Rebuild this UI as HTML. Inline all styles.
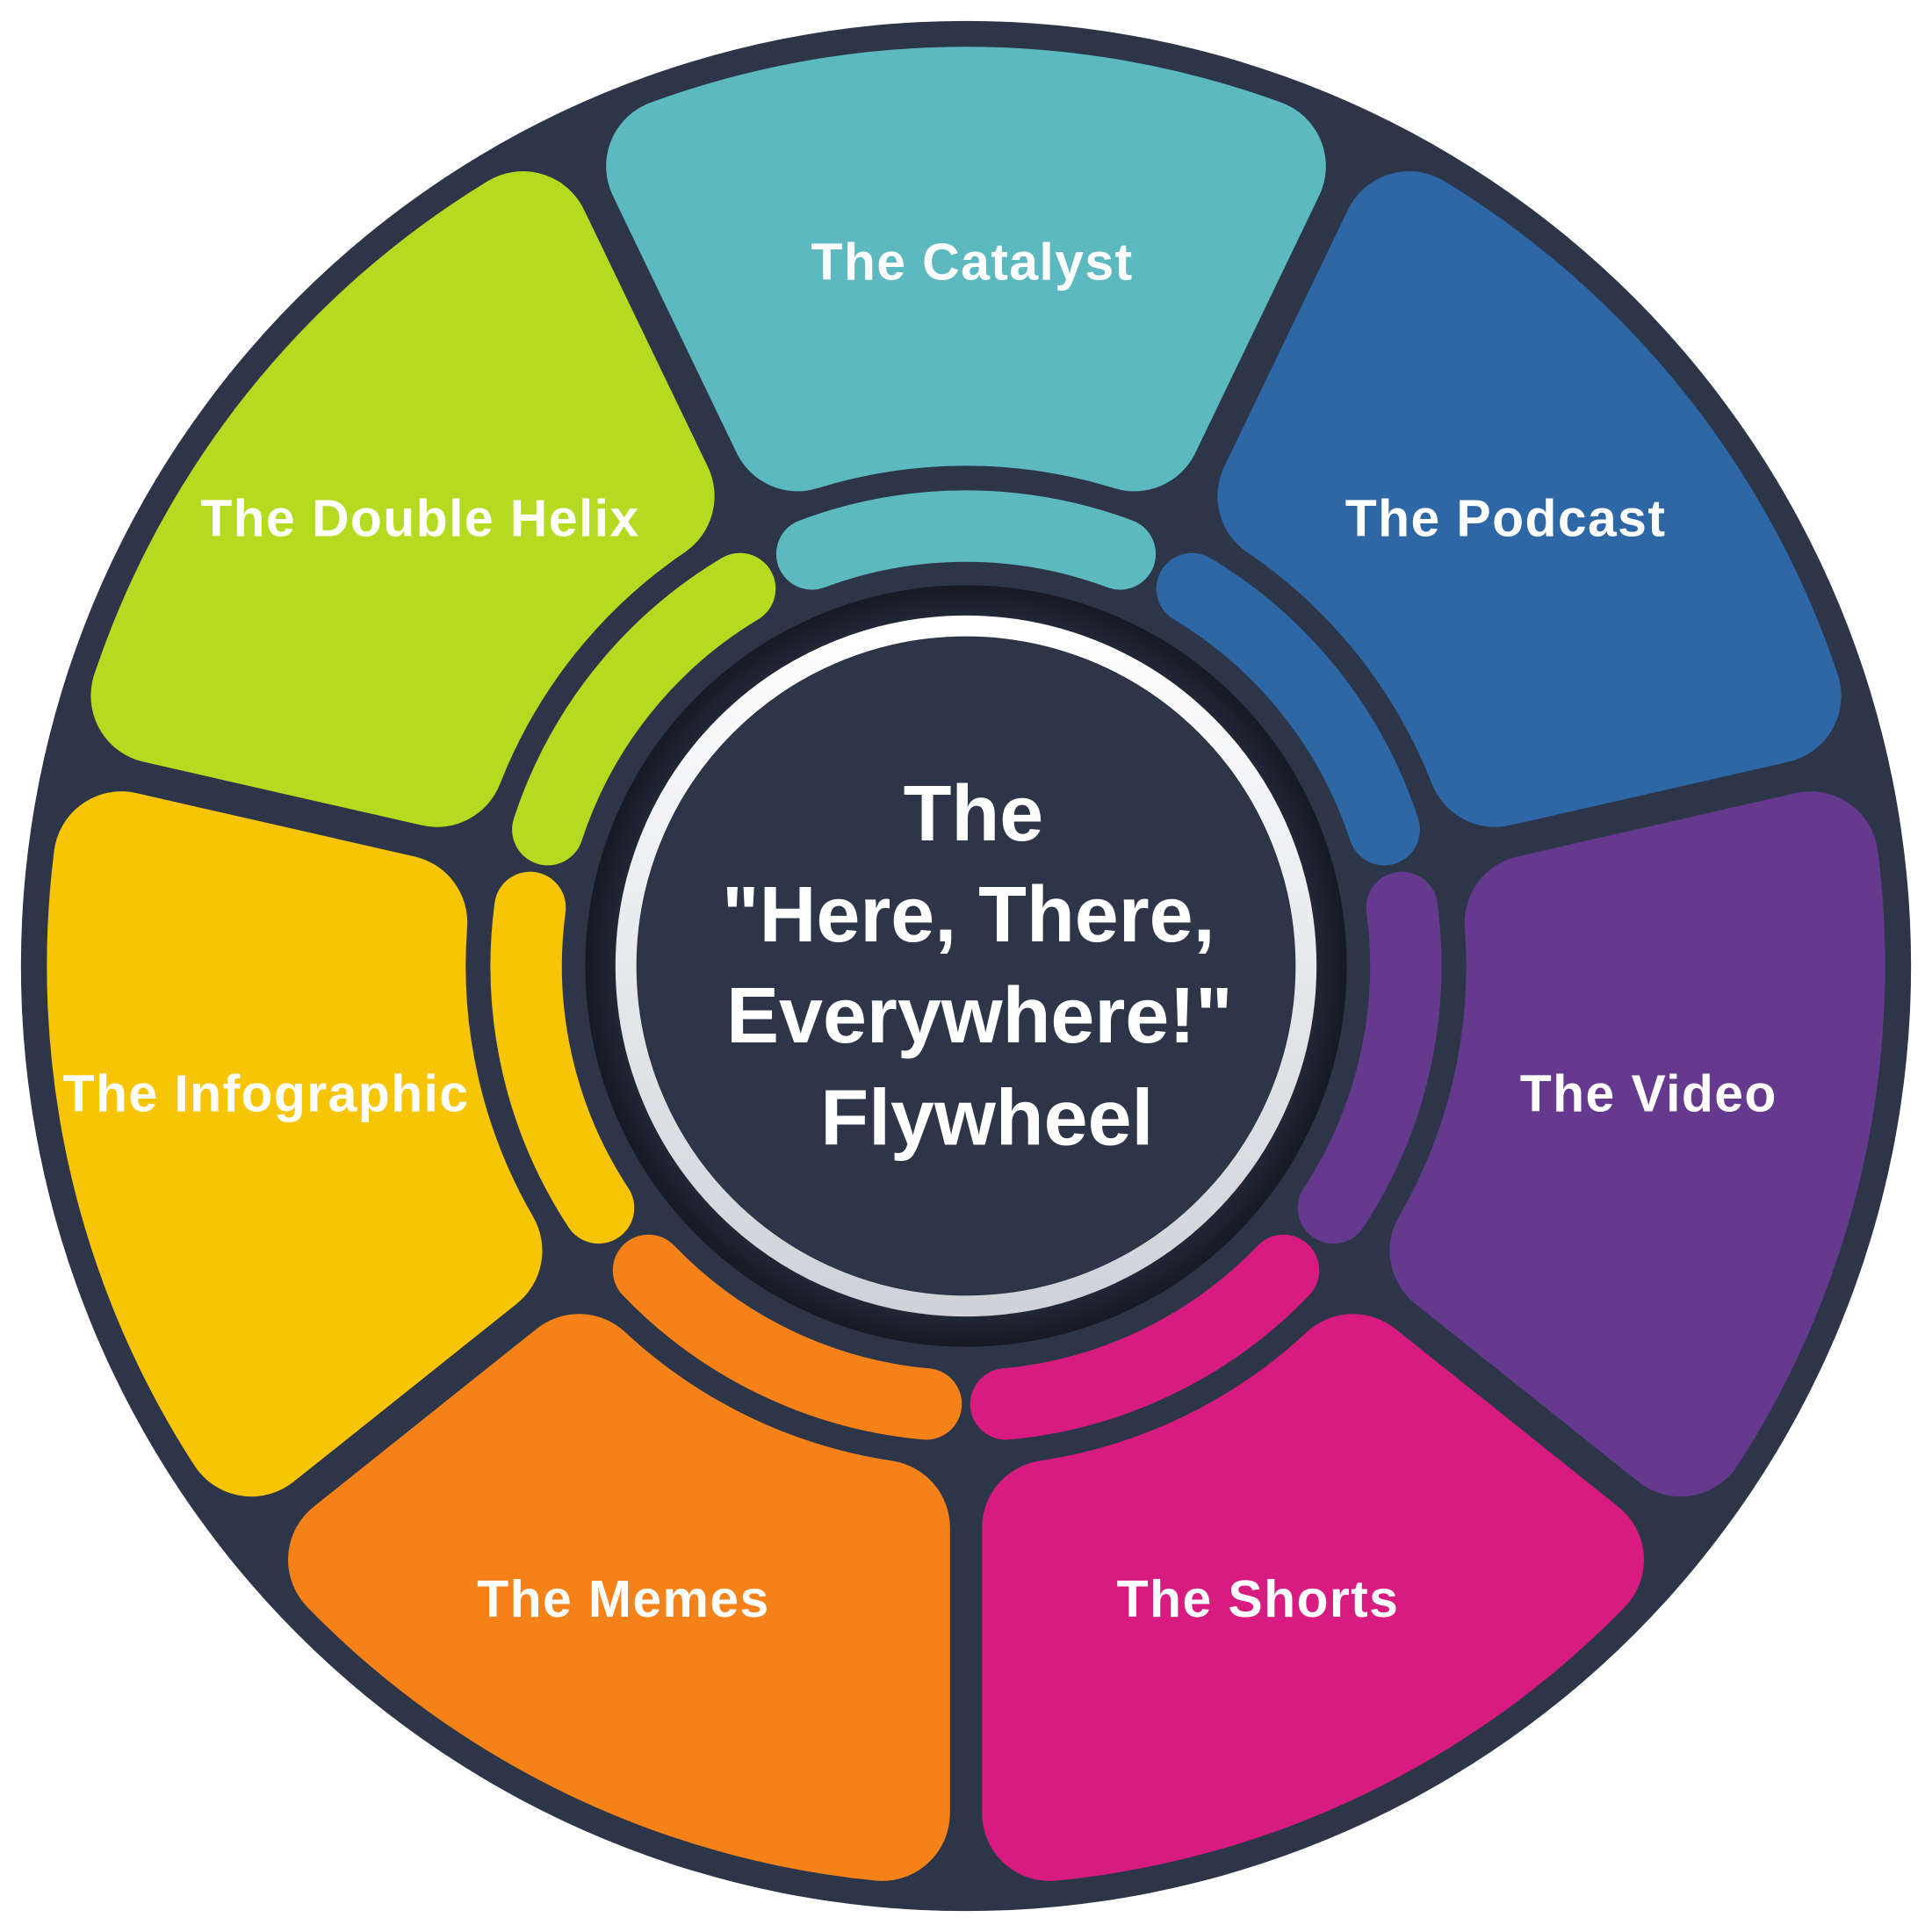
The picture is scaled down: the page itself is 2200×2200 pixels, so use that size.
<!DOCTYPE html>
<html><head><meta charset="utf-8"><style>
html,body{margin:0;padding:0;background:#fff}
svg{display:block}
text{font-family:"Liberation Sans",sans-serif;font-weight:bold;fill:#fff}
</style></head><body>
<svg id="s" width="2200" height="2200" viewBox="0 0 1568 1568" xmlns="http://www.w3.org/2000/svg">
<defs>
<radialGradient id="rg" cx="0.5" cy="0.5" r="0.5">
<stop offset="0.85" stop-color="#2a3244"/><stop offset="1" stop-color="#151a24"/>
</radialGradient>
<linearGradient id="wg" x1="0" y1="0" x2="0" y2="1">
<stop offset="0" stop-color="#ffffff"/><stop offset="1" stop-color="#cfd2d8"/>
</linearGradient>
</defs>
<circle cx="784" cy="784" r="767" fill="#2d3649"/>
<g id="segs"></g>
<circle cx="784" cy="784" r="309" fill="url(#rg)"/>
<circle cx="784" cy="784" r="276" fill="none" stroke="url(#wg)" stroke-width="17"/>
<circle cx="784" cy="784" r="267" fill="#2d3649"/>
<g font-size="42" text-anchor="middle" letter-spacing="1">
<text x="789" y="227">The Catalyst</text>
<text x="1222" y="435">The Podcast</text>
<text x="1338" y="902">The Video</text>
<text x="1021" y="1312">The Shorts</text>
<text x="506" y="1312">The Memes</text>
<text x="216" y="902">The Infographic</text>
<text x="341" y="435">The Double Helix</text>
</g>
<g font-size="64" text-anchor="middle">
<text x="790" y="682">The</text>
<text x="786" y="764">"Here, There,</text>
<text x="795" y="846">Everywhere!"</text>
<text x="801" y="929">Flywheel</text>
</g>
</svg>
<script>
var cols=["#5cb9c0","#2e67a6","#653a8e","#d81b80","#f58219","#f7c505","#b5db20"];
var g=document.getElementById("segs"),cx=784,cy=784,D=Math.PI/180,h="";
function P(r,a){return (cx+r*Math.cos(a)).toFixed(1)+","+(cy+r*Math.sin(a)).toFixed(1);}
for(var i=0;i<7;i++){
 var c=(-90+i*360/7)*D,hw=180/7*D,ro=691,ri=461,d=68;
 var ao=hw-Math.asin(d/ro),ai=hw-Math.asin(d/ri);
 var p="M"+P(ro,c-ao)+" A"+ro+","+ro+" 0 0 1 "+P(ro,c+ao)+" L"+P(ri,c+ai)+" A"+ri+","+ri+" 0 0 0 "+P(ri,c-ai)+" Z";
 h+='<path d="'+p+'" fill="'+cols[i]+'" stroke="'+cols[i]+'" stroke-width="110" stroke-linejoin="round"/>';
 var rb=357,ab=20.5*D;
 h+='<path d="M'+P(rb,c-ab)+" A"+rb+","+rb+' 0 0 1 '+P(rb,c+ab)+'" fill="none" stroke="'+cols[i]+'" stroke-width="58" stroke-linecap="round"/>';
}
g.innerHTML=h;
</script>
</body></html>
